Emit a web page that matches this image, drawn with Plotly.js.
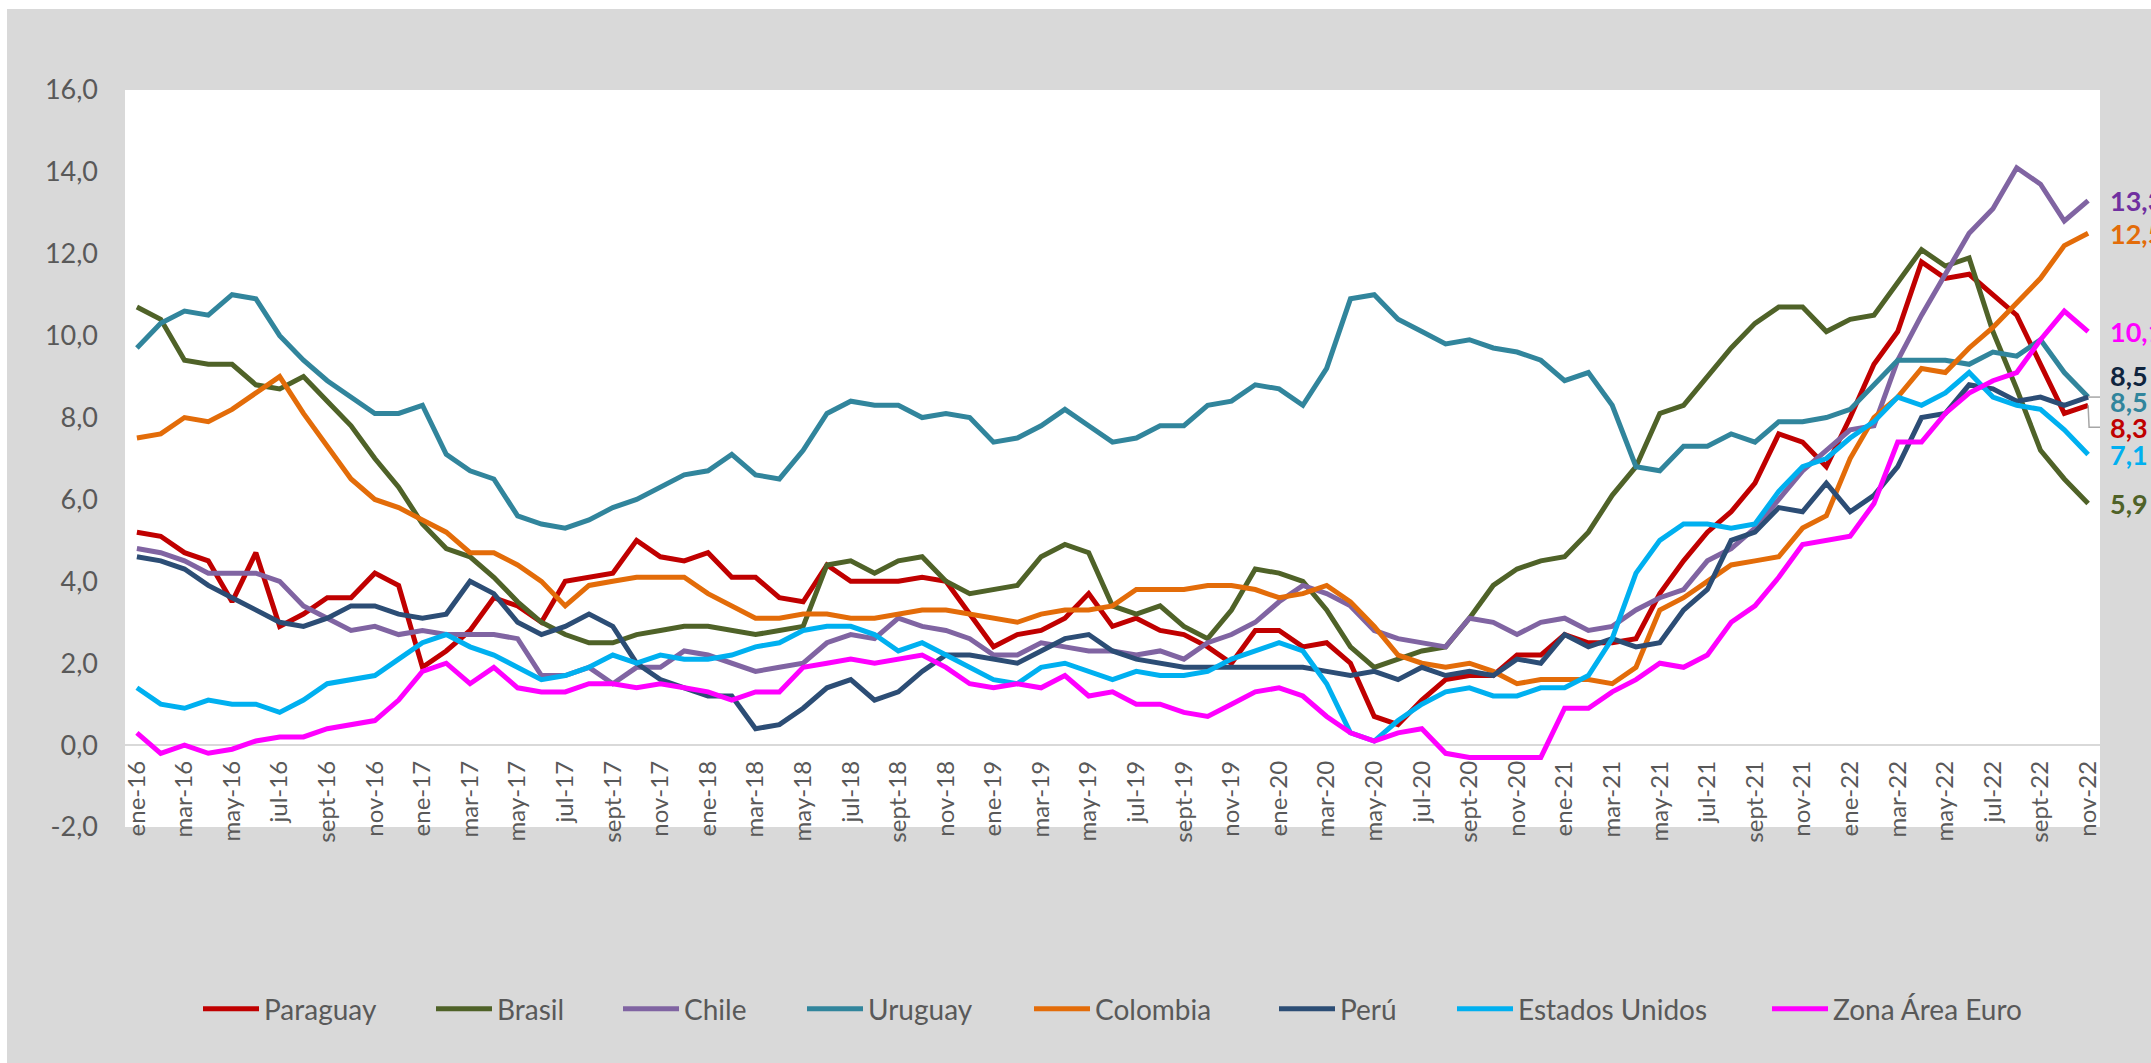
<!DOCTYPE html>
<html>
<head>
<meta charset="utf-8">
<script src="https://cdn.plot.ly/plotly-3.0.1.min.js"></script>
<style>
  html, body { margin: 0; padding: 0; background: #ffffff; width: 2151px; height: 1063px; overflow: hidden; }
  #chart { position: absolute; left: 7px; top: 9px; width: 2144px; height: 1054px; }
</style>
</head>
<body>
<div id="chart"></div>
<script>
// ---- data ----
const months = ["ene","feb","mar","abr","may","jun","jul","ago","sept","oct","nov","dic"];
const years = ["16","17","18","19","20","21","22"];
const categories = [];
years.forEach(function (y) { months.forEach(function (m) { categories.push(m + "-" + y); }); });
categories.splice(83); // ene-16 ... nov-22

const seriesNames = ["Paraguay", "Brasil", "Chile", "Uruguay", "Colombia", "Perú", "Estados Unidos", "Zona Área Euro"];

const yTickValues = [-2, 0, 2, 4, 6, 8, 10, 12, 14, 16];

const paraguay = [
  5.2, 5.1, 4.7, 4.5, 3.5, 4.7, 2.9, 3.2, 3.6, 3.6, 4.2, 3.9,
  1.9, 2.3, 2.8, 3.6, 3.4, 3.0, 4.0, 4.1, 4.2, 5.0, 4.6, 4.5,
  4.7, 4.1, 4.1, 3.6, 3.5, 4.4, 4.0, 4.0, 4.0, 4.1, 4.0, 3.2,
  2.4, 2.7, 2.8, 3.1, 3.7, 2.9, 3.1, 2.8, 2.7, 2.4, 2.0, 2.8,
  2.8, 2.4, 2.5, 2.0, 0.7, 0.5, 1.1, 1.6, 1.7, 1.7, 2.2, 2.2,
  2.7, 2.5, 2.5, 2.6, 3.7, 4.5, 5.2, 5.7, 6.4, 7.6, 7.4, 6.8,
  8.0, 9.3, 10.1, 11.8, 11.4, 11.5, 11.0, 10.5, 9.3, 8.1, 8.3
];
const brasil = [
  10.7, 10.4, 9.4, 9.3, 9.3, 8.8, 8.7, 9.0, 8.4, 7.8, 7.0, 6.3,
  5.4, 4.8, 4.6, 4.1, 3.5, 3.0, 2.7, 2.5, 2.5, 2.7, 2.8, 2.9,
  2.9, 2.8, 2.7, 2.8, 2.9, 4.4, 4.5, 4.2, 4.5, 4.6, 4.0, 3.7,
  3.8, 3.9, 4.6, 4.9, 4.7, 3.4, 3.2, 3.4, 2.9, 2.6, 3.3, 4.3,
  4.2, 4.0, 3.3, 2.4, 1.9, 2.1, 2.3, 2.4, 3.1, 3.9, 4.3, 4.5,
  4.6, 5.2, 6.1, 6.8, 8.1, 8.3, 9.0, 9.7, 10.3, 10.7, 10.7, 10.1,
  10.4, 10.5, 11.3, 12.1, 11.7, 11.9, 10.1, 8.7, 7.2, 6.5, 5.9
];
const chile = [
  4.8, 4.7, 4.5, 4.2, 4.2, 4.2, 4.0, 3.4, 3.1, 2.8, 2.9, 2.7,
  2.8, 2.7, 2.7, 2.7, 2.6, 1.7, 1.7, 1.9, 1.5, 1.9, 1.9, 2.3,
  2.2, 2.0, 1.8, 1.9, 2.0, 2.5, 2.7, 2.6, 3.1, 2.9, 2.8, 2.6,
  2.2, 2.2, 2.5, 2.4, 2.3, 2.3, 2.2, 2.3, 2.1, 2.5, 2.7, 3.0,
  3.5, 3.9, 3.7, 3.4, 2.8, 2.6, 2.5, 2.4, 3.1, 3.0, 2.7, 3.0,
  3.1, 2.8, 2.9, 3.3, 3.6, 3.8, 4.5, 4.8, 5.3, 6.0, 6.7, 7.2,
  7.7, 7.8, 9.4, 10.5, 11.5, 12.5, 13.1, 14.1, 13.7, 12.8, 13.3
];
const uruguay = [
  9.7, 10.3, 10.6, 10.5, 11.0, 10.9, 10.0, 9.4, 8.9, 8.5, 8.1, 8.1,
  8.3, 7.1, 6.7, 6.5, 5.6, 5.4, 5.3, 5.5, 5.8, 6.0, 6.3, 6.6,
  6.7, 7.1, 6.6, 6.5, 7.2, 8.1, 8.4, 8.3, 8.3, 8.0, 8.1, 8.0,
  7.4, 7.5, 7.8, 8.2, 7.8, 7.4, 7.5, 7.8, 7.8, 8.3, 8.4, 8.8,
  8.7, 8.3, 9.2, 10.9, 11.0, 10.4, 10.1, 9.8, 9.9, 9.7, 9.6, 9.4,
  8.9, 9.1, 8.3, 6.8, 6.7, 7.3, 7.3, 7.6, 7.4, 7.9, 7.9, 8.0,
  8.2, 8.8, 9.4, 9.4, 9.4, 9.3, 9.6, 9.5, 9.9, 9.1, 8.5
];
const colombia = [
  7.5, 7.6, 8.0, 7.9, 8.2, 8.6, 9.0, 8.1, 7.3, 6.5, 6.0, 5.8,
  5.5, 5.2, 4.7, 4.7, 4.4, 4.0, 3.4, 3.9, 4.0, 4.1, 4.1, 4.1,
  3.7, 3.4, 3.1, 3.1, 3.2, 3.2, 3.1, 3.1, 3.2, 3.3, 3.3, 3.2,
  3.1, 3.0, 3.2, 3.3, 3.3, 3.4, 3.8, 3.8, 3.8, 3.9, 3.9, 3.8,
  3.6, 3.7, 3.9, 3.5, 2.9, 2.2, 2.0, 1.9, 2.0, 1.8, 1.5, 1.6,
  1.6, 1.6, 1.5, 1.9, 3.3, 3.6, 4.0, 4.4, 4.5, 4.6, 5.3, 5.6,
  7.0, 8.0, 8.5, 9.2, 9.1, 9.7, 10.2, 10.8, 11.4, 12.2, 12.5
];
const peru = [
  4.6, 4.5, 4.3, 3.9, 3.6, 3.3, 3.0, 2.9, 3.1, 3.4, 3.4, 3.2,
  3.1, 3.2, 4.0, 3.7, 3.0, 2.7, 2.9, 3.2, 2.9, 2.0, 1.6, 1.4,
  1.2, 1.2, 0.4, 0.5, 0.9, 1.4, 1.6, 1.1, 1.3, 1.8, 2.2, 2.2,
  2.1, 2.0, 2.3, 2.6, 2.7, 2.3, 2.1, 2.0, 1.9, 1.9, 1.9, 1.9,
  1.9, 1.9, 1.8, 1.7, 1.8, 1.6, 1.9, 1.7, 1.8, 1.7, 2.1, 2.0,
  2.7, 2.4, 2.6, 2.4, 2.5, 3.3, 3.8, 5.0, 5.2, 5.8, 5.7, 6.4,
  5.7, 6.1, 6.8, 8.0, 8.1, 8.8, 8.7, 8.4, 8.5, 8.3, 8.5
];
const estadosUnidos = [
  1.4, 1.0, 0.9, 1.1, 1.0, 1.0, 0.8, 1.1, 1.5, 1.6, 1.7, 2.1,
  2.5, 2.7, 2.4, 2.2, 1.9, 1.6, 1.7, 1.9, 2.2, 2.0, 2.2, 2.1,
  2.1, 2.2, 2.4, 2.5, 2.8, 2.9, 2.9, 2.7, 2.3, 2.5, 2.2, 1.9,
  1.6, 1.5, 1.9, 2.0, 1.8, 1.6, 1.8, 1.7, 1.7, 1.8, 2.1, 2.3,
  2.5, 2.3, 1.5, 0.3, 0.1, 0.6, 1.0, 1.3, 1.4, 1.2, 1.2, 1.4,
  1.4, 1.7, 2.6, 4.2, 5.0, 5.4, 5.4, 5.3, 5.4, 6.2, 6.8, 7.0,
  7.5, 7.9, 8.5, 8.3, 8.6, 9.1, 8.5, 8.3, 8.2, 7.7, 7.1
];
const zonaEuro = [
  0.3, -0.2, 0.0, -0.2, -0.1, 0.1, 0.2, 0.2, 0.4, 0.5, 0.6, 1.1,
  1.8, 2.0, 1.5, 1.9, 1.4, 1.3, 1.3, 1.5, 1.5, 1.4, 1.5, 1.4,
  1.3, 1.1, 1.3, 1.3, 1.9, 2.0, 2.1, 2.0, 2.1, 2.2, 1.9, 1.5,
  1.4, 1.5, 1.4, 1.7, 1.2, 1.3, 1.0, 1.0, 0.8, 0.7, 1.0, 1.3,
  1.4, 1.2, 0.7, 0.3, 0.1, 0.3, 0.4, -0.2, -0.3, -0.3, -0.3, -0.3,
  0.9, 0.9, 1.3, 1.6, 2.0, 1.9, 2.2, 3.0, 3.4, 4.1, 4.9, 5.0,
  5.1, 5.9, 7.4, 7.4, 8.1, 8.6, 8.9, 9.1, 9.9, 10.6, 10.1
];
const seriesValues = [paraguay, brasil, chile, uruguay, colombia, peru, estadosUnidos, zonaEuro];

// ---- styles ----
const lineColors = ["#c00000", "#4f6228", "#8064a2", "#31859c", "#e36c09", "#2c4d75", "#00b0f0", "#ff00ff"];
const labelColors = ["#c00000", "#4f6228", "#7030a0", "#31859c", "#e36c09", "#0f243e", "#00b0f0", "#ff00ff"];
const labelYShift = [-22, 0, 0, -4, 0, 22, 0, 0];
const legendLeft = [210, 443, 630, 814, 1041, 1286, 1464, 1779]; // page px of legend symbol start

const FONT = "Lato, 'Open Sans', sans-serif";
const plotLeft = 125, plotRight = 2100, plotTop = 90, plotBottom = 827;
const plotW = plotRight - plotLeft, plotH = plotBottom - plotTop;

function fmt(v) { return v.toFixed(1).replace(".", ","); }

const traces = seriesNames.map(function (name, i) {
  return {
    type: "scatter",
    mode: "lines",
    name: name,
    x: categories,
    y: seriesValues[i],
    line: { color: lineColors[i], width: 5, shape: "linear" },
    legend: i === 0 ? "legend" : "legend" + (i + 1),
    cliponaxis: false,
    hoverinfo: "x+y+name"
  };
});

const lastCat = categories[categories.length - 1];
const annotations = seriesNames.map(function (name, i) {
  const v = seriesValues[i][seriesValues[i].length - 1];
  return {
    x: lastCat, y: v, xref: "x", yref: "y",
    text: fmt(v),
    showarrow: false, xanchor: "left", yanchor: "middle",
    xshift: 20, yshift: labelYShift[i],
    font: { family: FONT, size: 27, color: labelColors[i], weight: "bold" }
  };
});

const shapes = [
  { // leader for Uruguay label
    type: "path", xref: "x", yref: "y", xsizemode: "pixel", ysizemode: "pixel",
    xanchor: lastCat, yanchor: uruguay[uruguay.length - 1],
    path: "M0,0 L15,0",
    line: { color: "#a6a6a6", width: 1.5 }
  },
  { // leader for Paraguay label
    type: "path", xref: "x", yref: "y", xsizemode: "pixel", ysizemode: "pixel",
    xanchor: lastCat, yanchor: paraguay[paraguay.length - 1],
    path: "M0,0 L1,-22 L13,-22",
    line: { color: "#a6a6a6", width: 1.5 }
  }
];

const layout = {
  width: 2144, height: 1054,
  margin: { l: plotLeft - 7, r: 2151 - plotRight, t: plotTop - 9, b: 1063 - plotBottom, pad: 0 },
  paper_bgcolor: "#d9d9d9",
  plot_bgcolor: "#ffffff",
  separators: ",.",
  font: { family: FONT, color: "#595959" },
  showlegend: true,
  xaxis: {
    type: "category",
    range: [-0.5, categories.length - 0.5],
    anchor: "free", position: 2 / 18,
    tickmode: "array",
    tickvals: categories.filter(function (c, i) { return i % 2 === 0; }),
    ticktext: categories.filter(function (c, i) { return i % 2 === 0; }),
    tickangle: -90,
    ticks: "", showline: false, showgrid: false, zeroline: false,
    ticklabelstandoff: 10,
    tickfont: { family: FONT, size: 24, color: "#595959" },
    fixedrange: true
  },
  yaxis: {
    range: [-2, 16],
    tickmode: "array",
    tickvals: yTickValues,
    ticktext: yTickValues.map(fmt),
    showgrid: false, showline: false, ticks: "",
    zeroline: true, zerolinecolor: "#d9d9d9", zerolinewidth: 2,
    ticklabelstandoff: 26,
    tickfont: { family: FONT, size: 27, color: "#595959" },
    fixedrange: true
  },
  annotations: annotations,
  shapes: shapes
};

seriesNames.forEach(function (n, i) {
  const key = i === 0 ? "legend" : "legend" + (i + 1);
  layout[key] = {
    x: (legendLeft[i] - plotLeft - 12) / plotW,
    y: (plotBottom - 1009) / plotH,
    xanchor: "left", yanchor: "middle",
    orientation: "h",
    bgcolor: "rgba(0,0,0,0)",
    borderwidth: 0,
    itemwidth: 56,
    font: { family: FONT, size: 28, color: "#595959" }
  };
});

Plotly.newPlot("chart", traces, layout, { displayModeBar: false, staticPlot: true });
</script>
</body>
</html>
